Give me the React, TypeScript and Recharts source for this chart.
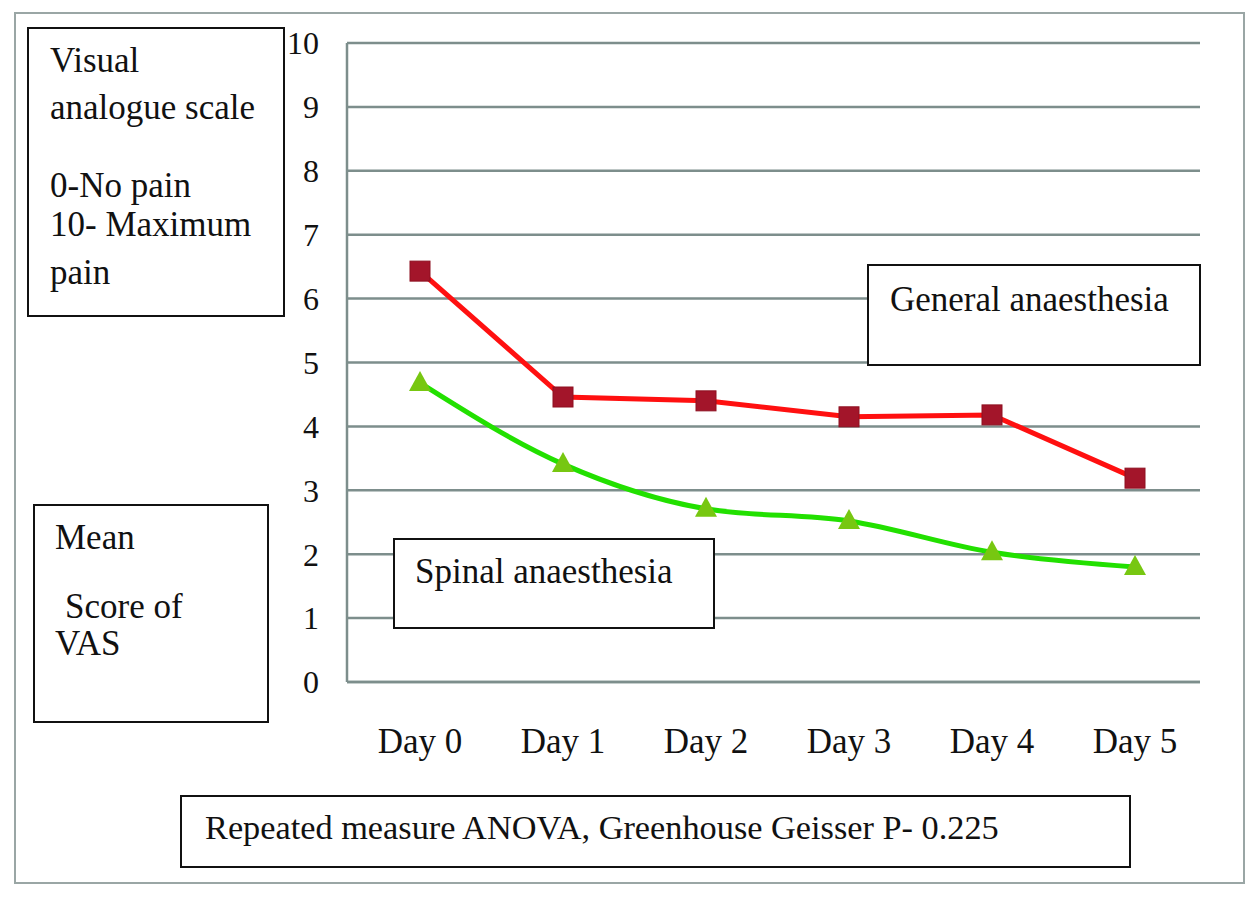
import React from 'react';
import { LineChart, Line, XAxis, YAxis, CartesianGrid } from 'recharts';

const days = ['Day 0', 'Day 1', 'Day 2', 'Day 3', 'Day 4', 'Day 5'];
const generalVas = [6.43, 4.46, 4.4, 4.15, 4.18, 3.19];
const spinalVas = [4.68, 3.41, 2.71, 2.52, 2.03, 1.8];
const yTicks = [0, 1, 2, 3, 4, 5, 6, 7, 8, 9, 10];

const data = days.map((day, i) => ({ day, general: generalVas[i], spinal: spinalVas[i] }));

const FONT = '"Liberation Serif", "Times New Roman", serif';
const GRID = '#7d8e8c';

const SquareDot = (props: any) => {
  const { cx, cy } = props;
  if (cx == null || cy == null) return null;
  return <rect x={cx - 10} y={cy - 10} width={20} height={20} fill="#a3152a" stroke="#8e1020" strokeWidth={1} />;
};

const TriangleDot = (props: any) => {
  const { cx, cy } = props;
  if (cx == null || cy == null) return null;
  return <polygon points={`${cx},${cy - 12} ${cx + 11},${cy + 8} ${cx - 11},${cy + 8}`} fill="#77c711" />;
};

const boxStyle = (left: number, top: number, width: number, height: number): React.CSSProperties => ({
  position: 'absolute',
  left,
  top,
  width,
  height,
  border: '2.5px solid #111',
  boxSizing: 'border-box',
  background: '#fff',
});

const txt = (left: number, top: number, size = 35): React.CSSProperties => ({
  position: 'absolute',
  left,
  top,
  fontFamily: FONT,
  fontSize: size,
  color: '#111',
  whiteSpace: 'nowrap',
  lineHeight: 1,
});

export default function App() {
  return (
    <div style={{ position: 'absolute', left: 0, top: 0, width: 1257, height: 897, background: '#fff' }}>
      <div style={{ position: 'absolute', left: 14, top: 12, width: 1231, height: 872, border: '2px solid #9aa6a5', boxSizing: 'border-box' }} />
      <div style={{ position: 'absolute', left: 0, top: 0 }}>
        <LineChart width={1257} height={897} data={data} margin={{ top: 43, right: 57, left: 287, bottom: 155 }}>
          <CartesianGrid horizontal vertical={false} stroke={GRID} strokeWidth={2.5} />
          <XAxis
            dataKey="day"
            axisLine={{ stroke: GRID, strokeWidth: 2.5 }}
            tickLine={false}
            tickMargin={40}
            height={60}
            padding={{ left: 73, right: 65 }}
            tick={{ fontFamily: FONT, fontSize: 35, fill: '#111' }}
          />
          <YAxis
            domain={[0, 10]}
            ticks={yTicks}
            width={60}
            axisLine={{ stroke: GRID, strokeWidth: 2.5 }}
            tickLine={false}
            tickMargin={22}
            interval={0}
            tick={{ fontFamily: FONT, fontSize: 32, fill: '#111' }}
          />
          <Line
            type="linear"
            dataKey="general"
            stroke="#ff1010"
            strokeWidth={5}
            dot={<SquareDot />}
            isAnimationActive={false}
          />
          <Line
            type="monotone"
            dataKey="spinal"
            stroke="#22e000"
            strokeWidth={5}
            dot={<TriangleDot />}
            isAnimationActive={false}
          />
        </LineChart>
      </div>

      <div style={boxStyle(27, 27, 258, 290)} />
      <div style={txt(50, 43)}>Visual</div>
      <div style={txt(50, 90)}>analogue scale</div>
      <div style={txt(50, 168)}>0-No pain</div>
      <div style={txt(50, 207)}>10- Maximum</div>
      <div style={txt(50, 255)}>pain</div>

      <div style={boxStyle(33, 504, 236, 219)} />
      <div style={txt(55, 520)}>Mean</div>
      <div style={txt(65, 589)}>Score of</div>
      <div style={txt(55, 626)}>VAS</div>

      <div style={boxStyle(393, 538, 322, 91)} />
      <div style={txt(415, 554)}>Spinal anaesthesia</div>

      <div style={boxStyle(867, 264, 334, 102)} />
      <div style={txt(890, 282)}>General anaesthesia</div>

      <div style={boxStyle(180, 795, 951, 73)} />
      <div style={txt(205, 810, 34.3)}>Repeated measure ANOVA, Greenhouse Geisser P- 0.225</div>
    </div>
  );
}
